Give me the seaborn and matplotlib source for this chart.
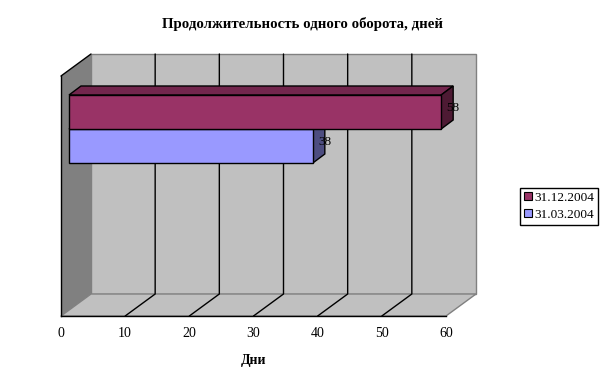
import pandas as pd
import seaborn as sns
import matplotlib.pyplot as plt
from matplotlib.patches import Polygon, Patch

# values
dates = ['31.12.2004', '31.03.2004']
days = [58, 38]
bar_colors = ['#993366', '#9999FF']
top_colors = ['#73264D', '#7373BF']
side_colors = ['#4D1A33', '#4D4D80']
x_ticks = [0, 10, 20, 30, 40, 50, 60]

title = 'Продолжительность одного оборота, дней'
x_title = 'Дни'

sns.set_theme(style='white')
plt.rcParams['font.family'] = ['Liberation Serif', 'DejaVu Serif']
plt.rcParams['text.color'] = 'black'
plt.rcParams['axes.labelcolor'] = 'black'

df = pd.DataFrame({'group': [''] * len(days), 'date': dates, 'days': days})

fig = plt.figure(figsize=(6.05, 3.74), dpi=100)
# axes = front plane of the 3d box
ax = fig.add_axes([61 / 605, 58 / 374, 385 / 605, 240 / 374])

sns.barplot(data=df, y='group', x='days', hue='date', hue_order=dates,
            palette=bar_colors, orient='h', width=0.8, saturation=1,
            edgecolor='black', linewidth=1, legend=False, ax=ax)
bars = list(ax.patches)

ax.set_xlim(x_ticks[0], x_ticks[-1])
ax.set_ylim(2.129, -0.694)
ax.patch.set_visible(False)
bot, top = ax.get_ylim()
x0, x1 = ax.get_xlim()


def shift(x, y, dpx, dpy):
    # move a data point some pixels on screen (for the 3d depth)
    px, py = ax.transData.transform((x, y))
    return tuple(ax.transData.inverted().transform((px + dpx, py + dpy)))


DEPTH = (30, 22)
BAR_FRONT = (8, 6)
BAR_BACK = (20, 15)

# walls and floor
back = [shift(x, y, *DEPTH) for x, y in [(x0, bot), (x1, bot), (x1, top), (x0, top)]]
ax.add_patch(Polygon(back, facecolor='#C0C0C0', edgecolor='#808080', lw=1, zorder=0.5, clip_on=False))
side = [(x0, bot), (x0, top), shift(x0, top, *DEPTH), shift(x0, bot, *DEPTH)]
ax.add_patch(Polygon(side, facecolor='#808080', edgecolor='none', zorder=0.6, clip_on=False))
floor = [(x0, bot), (x1, bot), shift(x1, bot, *DEPTH), shift(x0, bot, *DEPTH)]
ax.add_patch(Polygon(floor, facecolor='#C0C0C0', edgecolor='#808080', lw=1, zorder=0.7, clip_on=False))
ax.plot([x0, shift(x0, top, *DEPTH)[0]], [top, shift(x0, top, *DEPTH)[1]],
        color='black', lw=1, zorder=2, clip_on=False)

for v in x_ticks[1:-1]:
    bx, by = shift(v, bot, *DEPTH)
    tx, ty = shift(v, top, *DEPTH)
    ax.plot([v, bx, tx], [bot, by, ty], color='black', lw=1, zorder=1, clip_on=False)

# bars: front face from seaborn, moved into the box, plus top and side faces
for i, p in enumerate(bars):
    bx0, by0 = p.get_x(), p.get_y()
    w, h = p.get_width(), p.get_height()
    z = 3 + (len(bars) - i)
    p.set_xy(shift(bx0, by0, *BAR_FRONT))
    p.set_zorder(z + 0.5)
    p.set_clip_on(False)
    top_face = [shift(bx0, by0, *BAR_FRONT), shift(bx0 + w, by0, *BAR_FRONT),
                shift(bx0 + w, by0, *BAR_BACK), shift(bx0, by0, *BAR_BACK)]
    ax.add_patch(Polygon(top_face, facecolor=top_colors[i], edgecolor='black', lw=1, zorder=z, clip_on=False))
    side_face = [shift(bx0 + w, by0, *BAR_FRONT), shift(bx0 + w, by0 + h, *BAR_FRONT),
                 shift(bx0 + w, by0 + h, *BAR_BACK), shift(bx0 + w, by0, *BAR_BACK)]
    ax.add_patch(Polygon(side_face, facecolor=side_colors[i], edgecolor='black', lw=1, zorder=z, clip_on=False))
    lx, ly = shift(bx0 + w, by0 + h / 2, 20, 10)
    ax.text(lx, ly, str(days[i]), ha='center', va='center', fontsize=9.5, zorder=20)

for s in ['top', 'right']:
    ax.spines[s].set_visible(False)
for s in ['left', 'bottom']:
    ax.spines[s].set_color('black')
    ax.spines[s].set_linewidth(1)

ax.set_xticks(x_ticks)
ax.set_yticks([])
ax.set_ylabel('')
ax.tick_params(axis='x', length=0, pad=8, labelsize=10, colors='black')
ax.set_xlabel(x_title, fontsize=10, fontweight='bold', labelpad=10)

fig.text(0.5, 1 - 24 / 374, title, ha='center', va='center', fontsize=10.7, fontweight='bold')

handles = [Patch(facecolor=c, edgecolor='black', linewidth=0.8) for c in bar_colors]
leg = fig.legend(handles, dates, loc='upper left', bbox_to_anchor=(520 / 605, 1 - 188 / 374),
                 frameon=True, fancybox=False, edgecolor='black', framealpha=1, fontsize=9.5,
                 handlelength=0.6, handleheight=0.6, handletextpad=0.2, borderpad=0.3,
                 labelspacing=0.36, borderaxespad=0)
leg.get_frame().set_linewidth(1)

fig.savefig('out.png', dpi=100)
